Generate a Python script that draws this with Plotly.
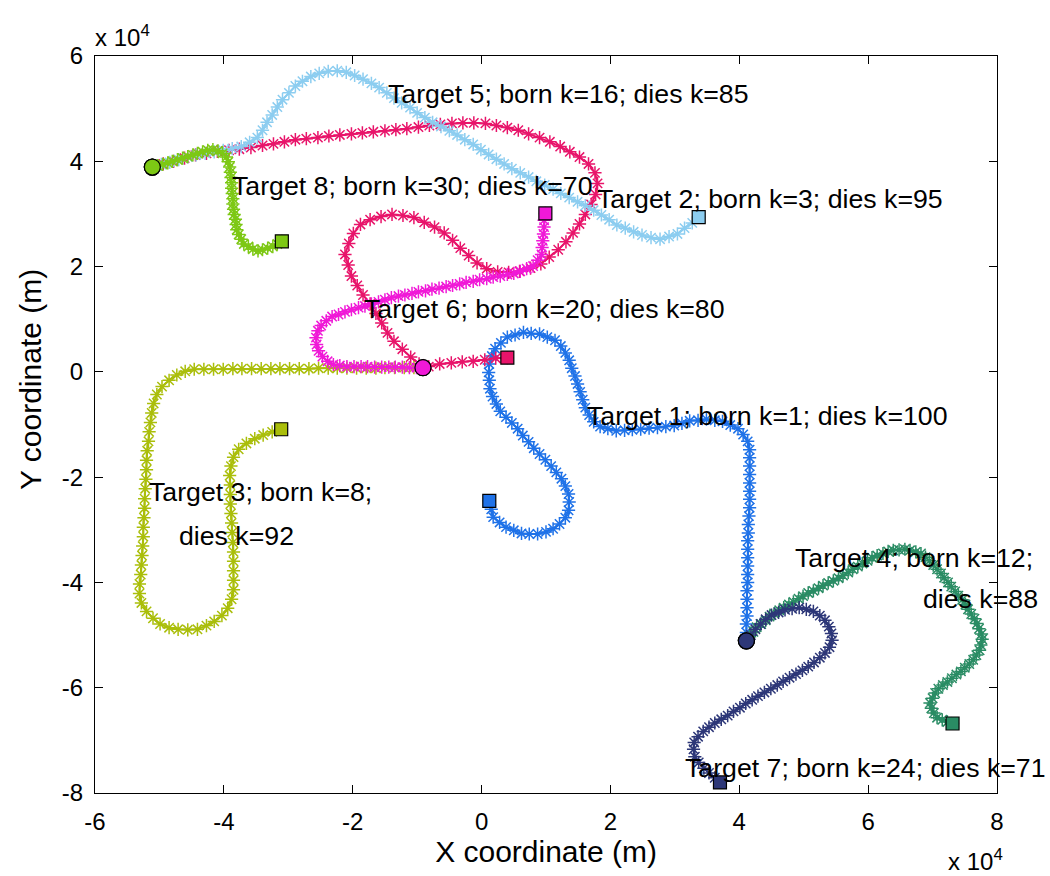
import plotly.graph_objects as go

# ---------------- data (coordinates in units of 10^4 m) ----------------
target_ids = [1, 2, 3, 4, 5, 6, 7, 8]
born_k = [1, 3, 8, 12, 16, 20, 24, 30]
dies_k = [100, 95, 92, 88, 85, 80, 71, 70]
colors = ["#1f72e8", "#e8146a", "#aabe0a", "#2a8c64",
          "#8ccdf0", "#f019d7", "#2d3778", "#7dc814"]

x_ticks = [-6, -4, -2, 0, 2, 4, 6, 8]
x_tick_labels = ["-6", "-4", "-2", "0", "2", "4", "6", "8"]
y_ticks = [-8, -6, -4, -2, 0, 2, 4, 6]
y_tick_labels = ["-8", "-6", "-4", "-2", "0", "2", "4", "6"]

t1_x = [4.11, 4.11, 4.11, 4.12, 4.12, 4.12, 4.12, 4.13, 4.13, 4.13,
        4.13, 4.13, 4.13, 4.14, 4.14, 4.15, 4.16, 4.16, 4.16, 4.16,
        4.16, 4.16, 4.16, 4.16, 4.13, 4.06, 3.98, 3.86, 3.74, 3.62,
        3.49, 3.36, 3.23, 3.11, 2.99, 2.86, 2.73, 2.60, 2.47, 2.34,
        2.22, 2.09, 1.96, 1.84, 1.74, 1.67, 1.61, 1.57, 1.53, 1.49,
        1.45, 1.40, 1.36, 1.30, 1.23, 1.14, 1.02, 0.90, 0.77, 0.65,
        0.52, 0.40, 0.30, 0.21, 0.16, 0.12, 0.11, 0.12, 0.13, 0.17,
        0.23, 0.29, 0.38, 0.47, 0.56, 0.64, 0.73, 0.81, 0.90, 0.99,
        1.08, 1.16, 1.24, 1.30, 1.35, 1.36, 1.35, 1.30, 1.21, 1.11,
        1.00, 0.87, 0.74, 0.62, 0.50, 0.38, 0.28, 0.18, 0.15, 0.12]
t1_y = [-5.11, -4.95, -4.79, -4.64, -4.48, -4.32, -4.16, -4.00, -3.85, -3.69,
        -3.53, -3.37, -3.21, -3.06, -2.90, -2.74, -2.58, -2.42, -2.27, -2.11,
        -1.95, -1.79, -1.63, -1.48, -1.32, -1.19, -1.08, -1.01, -0.94, -0.92,
        -0.90, -0.92, -0.93, -0.98, -1.02, -1.04, -1.06, -1.07, -1.09, -1.10,
        -1.11, -1.12, -1.08, -1.04, -0.95, -0.82, -0.68, -0.53, -0.38, -0.23,
        -0.08, 0.07, 0.22, 0.36, 0.49, 0.60, 0.66, 0.72, 0.73, 0.75,
        0.70, 0.66, 0.55, 0.44, 0.30, 0.15, -0.01, -0.16, -0.32, -0.47,
        -0.61, -0.75, -0.86, -0.97, -1.08, -1.21, -1.33, -1.45, -1.56, -1.67,
        -1.79, -1.91, -2.03, -2.17, -2.32, -2.47, -2.63, -2.77, -2.89, -2.98,
        -3.04, -3.08, -3.08, -3.07, -3.01, -2.95, -2.86, -2.76, -2.61, -2.45]

t2_x = [-5.11, -4.94, -4.78, -4.61, -4.44, -4.27, -4.10, -3.92, -3.76, -3.58,
        -3.40, -3.23, -3.06, -2.89, -2.72, -2.54, -2.37, -2.20, -2.02, -1.85,
        -1.68, -1.50, -1.33, -1.16, -0.98, -0.81, -0.64, -0.46, -0.29, -0.12,
        0.06, 0.23, 0.40, 0.57, 0.73, 0.90, 1.06, 1.22, 1.37, 1.52,
        1.66, 1.76, 1.80, 1.77, 1.70, 1.61, 1.52, 1.42, 1.31, 1.19,
        1.05, 0.92, 0.76, 0.59, 0.42, 0.25, 0.08, -0.07, -0.20, -0.33,
        -0.45, -0.58, -0.73, -0.89, -1.05, -1.22, -1.39, -1.56, -1.73, -1.88,
        -1.99, -2.06, -2.12, -2.07, -2.02, -1.93, -1.84, -1.73, -1.64, -1.55,
        -1.46, -1.36, -1.23, -1.10, -0.97, -0.82, -0.65, -0.47, -0.30, -0.13,
        0.05, 0.22, 0.40]
t2_y = [3.89, 3.95, 4.00, 4.06, 4.12, 4.15, 4.19, 4.21, 4.23, 4.26,
        4.30, 4.33, 4.37, 4.41, 4.43, 4.45, 4.48, 4.50, 4.52, 4.54,
        4.56, 4.58, 4.60, 4.62, 4.65, 4.68, 4.70, 4.72, 4.73, 4.73,
        4.72, 4.68, 4.64, 4.59, 4.52, 4.45, 4.37, 4.28, 4.18, 4.08,
        3.95, 3.78, 3.58, 3.37, 3.18, 2.99, 2.81, 2.64, 2.47, 2.32,
        2.18, 2.05, 1.97, 1.91, 1.89, 1.90, 1.96, 2.07, 2.21, 2.35,
        2.50, 2.64, 2.75, 2.84, 2.93, 2.97, 2.99, 2.95, 2.89, 2.80,
        2.63, 2.44, 2.23, 2.03, 1.82, 1.64, 1.46, 1.29, 1.11, 0.93,
        0.74, 0.58, 0.43, 0.28, 0.15, 0.10, 0.15, 0.17, 0.19, 0.20,
        0.23, 0.26, 0.27]

t3_x = [-0.91, -1.05, -1.20, -1.35, -1.50, -1.64, -1.79, -1.94, -2.09, -2.24,
        -2.38, -2.53, -2.68, -2.83, -2.98, -3.13, -3.27, -3.42, -3.57, -3.72,
        -3.86, -4.01, -4.16, -4.31, -4.46, -4.60, -4.73, -4.85, -4.96, -5.04,
        -5.09, -5.12, -5.14, -5.16, -5.17, -5.19, -5.20, -5.20, -5.21, -5.22,
        -5.23, -5.23, -5.24, -5.25, -5.25, -5.26, -5.27, -5.28, -5.29, -5.31,
        -5.31, -5.28, -5.20, -5.10, -4.99, -4.85, -4.71, -4.56, -4.41, -4.27,
        -4.15, -4.03, -3.94, -3.88, -3.85, -3.85, -3.85, -3.85, -3.85, -3.86,
        -3.87, -3.88, -3.89, -3.90, -3.90, -3.90, -3.91, -3.89, -3.85, -3.77,
        -3.65, -3.52, -3.39, -3.25, -3.11]
t3_y = [0.08, 0.08, 0.08, 0.08, 0.08, 0.07, 0.07, 0.07, 0.07, 0.07,
        0.07, 0.07, 0.06, 0.06, 0.06, 0.06, 0.06, 0.06, 0.06, 0.06,
        0.06, 0.05, 0.05, 0.05, 0.05, 0.01, -0.06, -0.16, -0.28, -0.43,
        -0.60, -0.78, -0.96, -1.14, -1.32, -1.50, -1.68, -1.86, -2.04, -2.22,
        -2.41, -2.59, -2.77, -2.95, -3.13, -3.31, -3.49, -3.67, -3.85, -4.03,
        -4.21, -4.39, -4.55, -4.68, -4.79, -4.86, -4.89, -4.90, -4.89, -4.82,
        -4.74, -4.63, -4.49, -4.32, -4.14, -3.96, -3.78, -3.60, -3.42, -3.24,
        -3.05, -2.87, -2.69, -2.51, -2.33, -2.15, -1.97, -1.79, -1.62, -1.47,
        -1.36, -1.27, -1.20, -1.14, -1.09]

t4_x = [4.11, 4.16, 4.22, 4.27, 4.34, 4.41, 4.47, 4.54, 4.62, 4.69,
        4.77, 4.84, 4.92, 4.99, 5.07, 5.15, 5.23, 5.30, 5.38, 5.46,
        5.54, 5.61, 5.69, 5.76, 5.84, 5.91, 5.99, 6.06, 6.14, 6.23,
        6.31, 6.39, 6.48, 6.57, 6.65, 6.74, 6.82, 6.89, 6.95, 7.01,
        7.07, 7.13, 7.18, 7.24, 7.29, 7.35, 7.40, 7.46, 7.51, 7.55,
        7.60, 7.65, 7.69, 7.72, 7.76, 7.77, 7.75, 7.73, 7.68, 7.63,
        7.57, 7.50, 7.44, 7.37, 7.30, 7.23, 7.16, 7.09, 7.04, 7.00,
        6.96, 6.98, 7.02, 7.07, 7.15, 7.23, 7.31]
t4_y = [-5.11, -5.03, -4.94, -4.85, -4.79, -4.72, -4.65, -4.59, -4.53, -4.48,
        -4.42, -4.37, -4.31, -4.26, -4.20, -4.16, -4.11, -4.06, -4.01, -3.97,
        -3.92, -3.87, -3.81, -3.75, -3.70, -3.64, -3.59, -3.53, -3.49, -3.45,
        -3.41, -3.39, -3.38, -3.37, -3.39, -3.42, -3.45, -3.52, -3.59, -3.67,
        -3.75, -3.83, -3.91, -4.00, -4.08, -4.17, -4.25, -4.33, -4.42, -4.51,
        -4.60, -4.69, -4.78, -4.88, -4.98, -5.08, -5.19, -5.29, -5.38, -5.47,
        -5.55, -5.62, -5.69, -5.75, -5.82, -5.89, -5.95, -6.02, -6.10, -6.20,
        -6.29, -6.39, -6.48, -6.57, -6.61, -6.65, -6.68]

t5_x = [-5.11, -4.97, -4.84, -4.70, -4.56, -4.43, -4.29, -4.15, -4.01, -3.87,
        -3.73, -3.60, -3.48, -3.40, -3.33, -3.25, -3.17, -3.09, -2.99, -2.89,
        -2.78, -2.65, -2.52, -2.38, -2.24, -2.10, -1.97, -1.84, -1.71, -1.59,
        -1.47, -1.36, -1.24, -1.11, -1.00, -0.88, -0.76, -0.63, -0.50, -0.38,
        -0.26, -0.13, -0.01, 0.11, 0.23, 0.35, 0.47, 0.60, 0.73, 0.85,
        0.98, 1.11, 1.23, 1.36, 1.49, 1.61, 1.74, 1.86, 1.98, 2.10,
        2.23, 2.36, 2.49, 2.63, 2.77, 2.91, 3.04, 3.15, 3.27, 3.37]
t5_y = [3.89, 3.94, 3.98, 4.03, 4.08, 4.12, 4.15, 4.18, 4.21, 4.24,
        4.28, 4.36, 4.45, 4.59, 4.74, 4.88, 5.03, 5.17, 5.30, 5.43,
        5.52, 5.61, 5.67, 5.71, 5.72, 5.69, 5.63, 5.56, 5.48, 5.40,
        5.30, 5.20, 5.11, 5.02, 4.92, 4.83, 4.74, 4.66, 4.58, 4.50,
        4.41, 4.32, 4.22, 4.13, 4.04, 3.95, 3.86, 3.78, 3.70, 3.62,
        3.55, 3.47, 3.39, 3.31, 3.23, 3.16, 3.07, 2.98, 2.89, 2.79,
        2.73, 2.66, 2.60, 2.55, 2.52, 2.57, 2.62, 2.73, 2.83, 2.94]

t6_x = [-0.91, -1.01, -1.12, -1.23, -1.34, -1.44, -1.55, -1.66, -1.77, -1.87,
        -1.98, -2.09, -2.20, -2.30, -2.39, -2.47, -2.53, -2.56, -2.57, -2.54,
        -2.49, -2.41, -2.32, -2.22, -2.12, -2.02, -1.91, -1.81, -1.71, -1.60,
        -1.50, -1.40, -1.29, -1.19, -1.08, -0.98, -0.87, -0.77, -0.66, -0.55,
        -0.45, -0.34, -0.24, -0.13, -0.03, 0.08, 0.18, 0.29, 0.40, 0.50,
        0.60, 0.70, 0.80, 0.87, 0.93, 0.94, 0.95, 0.96, 0.97, 0.97,
        0.99]
t6_y = [0.08, 0.08, 0.08, 0.09, 0.09, 0.09, 0.09, 0.09, 0.10, 0.10,
        0.10, 0.10, 0.12, 0.14, 0.20, 0.29, 0.40, 0.52, 0.65, 0.78,
        0.88, 0.97, 1.05, 1.09, 1.14, 1.18, 1.22, 1.25, 1.29, 1.33,
        1.37, 1.41, 1.44, 1.46, 1.49, 1.52, 1.54, 1.57, 1.59, 1.62,
        1.64, 1.67, 1.70, 1.72, 1.75, 1.77, 1.80, 1.82, 1.85, 1.87,
        1.91, 1.96, 2.01, 2.12, 2.23, 2.36, 2.49, 2.62, 2.75, 2.88,
        3.01]

t7_x = [4.11, 4.18, 4.25, 4.33, 4.41, 4.50, 4.61, 4.71, 4.82, 4.93,
        5.04, 5.15, 5.25, 5.33, 5.39, 5.43, 5.44, 5.40, 5.33, 5.25,
        5.16, 5.07, 4.98, 4.88, 4.78, 4.68, 4.59, 4.49, 4.39, 4.29,
        4.20, 4.10, 4.01, 3.91, 3.82, 3.72, 3.62, 3.53, 3.44, 3.36,
        3.30, 3.29, 3.31, 3.37, 3.45, 3.53, 3.62, 3.70]
t7_y = [-5.11, -5.00, -4.89, -4.79, -4.70, -4.62, -4.57, -4.52, -4.50, -4.48,
        -4.51, -4.55, -4.63, -4.72, -4.84, -4.97, -5.10, -5.23, -5.34, -5.43,
        -5.52, -5.60, -5.67, -5.74, -5.81, -5.88, -5.95, -6.02, -6.09, -6.16,
        -6.23, -6.30, -6.38, -6.45, -6.53, -6.60, -6.67, -6.75, -6.83, -6.93,
        -7.04, -7.17, -7.31, -7.42, -7.53, -7.62, -7.71, -7.80]

t8_x = [-5.11, -5.03, -4.95, -4.87, -4.80, -4.72, -4.64, -4.56, -4.48, -4.41,
        -4.33, -4.25, -4.17, -4.09, -4.02, -3.96, -3.93, -3.91, -3.90, -3.89,
        -3.88, -3.88, -3.87, -3.86, -3.86, -3.85, -3.84, -3.82, -3.81, -3.80,
        -3.77, -3.73, -3.69, -3.62, -3.55, -3.47, -3.40, -3.32, -3.24, -3.17,
        -3.10]
t8_y = [3.89, 3.92, 3.94, 3.97, 4.00, 4.03, 4.06, 4.09, 4.12, 4.15,
        4.18, 4.21, 4.22, 4.20, 4.15, 4.08, 3.99, 3.89, 3.79, 3.69,
        3.59, 3.49, 3.39, 3.29, 3.19, 3.09, 2.99, 2.90, 2.80, 2.70,
        2.61, 2.52, 2.43, 2.38, 2.33, 2.30, 2.32, 2.35, 2.38, 2.43,
        2.48]

tracks_x = [t1_x, t2_x, t3_x, t4_x, t5_x, t6_x, t7_x, t8_x]
tracks_y = [t1_y, t2_y, t3_y, t4_y, t5_y, t6_y, t7_y, t8_y]

# ---------------- figure ----------------
FONT = "Liberation Sans, Arial, Helvetica, sans-serif"
fig = go.Figure()

for tid, xs, ys, col in zip(target_ids, tracks_x, tracks_y, colors):
    fig.add_trace(go.Scatter(
        x=xs, y=ys, mode="lines+markers", name=f"Target {tid}",
        line=dict(color=col, width=2),
        marker=dict(symbol="asterisk-open", size=11,
                    line=dict(color=col, width=1.5)),
        showlegend=False, hoverinfo="skip"))
    fig.add_trace(go.Scatter(
        x=[xs[0]], y=[ys[0]], mode="markers", showlegend=False,
        marker=dict(symbol="circle", size=16, color=col,
                    line=dict(color="black", width=1.2)),
        hoverinfo="skip"))
    fig.add_trace(go.Scatter(
        x=[xs[-1]], y=[ys[-1]], mode="markers", showlegend=False,
        marker=dict(symbol="square", size=13, color=col,
                    line=dict(color="black", width=1.2)),
        hoverinfo="skip"))

# label placement (left edge x, vertical centre y) per text line
label_lines = {
    1: [(1.60, -0.84, "Target {t}; born k={b}; dies k={d}")],
    2: [(1.76, 3.29, "Target {t}; born k={b}; dies k={d}")],
    3: [(-5.19, -2.28, "Target {t}; born k={b};"), (-4.72, -3.11, "dies k={d}")],
    4: [(4.83, -3.53, "Target {t}; born k={b};"), (6.82, -4.32, "dies k={d}")],
    5: [(-1.48, 5.28, "Target {t}; born k={b}; dies k={d}")],
    6: [(-1.85, 1.20, "Target {t}; born k={b}; dies k={d}")],
    7: [(3.13, -7.52, "Target {t}; born k={b}; dies k={d}")],
    8: [(-3.90, 3.54, "Target {t}; born k={b}; dies k={d}")],
}
annotations = []
for tid, b, d in zip(target_ids, born_k, dies_k):
    for lx, ly, tpl in label_lines[tid]:
        annotations.append(dict(
            x=lx, y=ly, xref="x", yref="y", xanchor="left", yanchor="middle",
            text=tpl.format(t=tid, b=b, d=d), showarrow=False,
            font=dict(family=FONT, size=26.7, color="black")))

# exponent labels
annotations.append(dict(x=0, y=1.0, xref="paper", yref="paper",
                        xanchor="left", yanchor="bottom", yshift=3, xshift=-2,
                        text="x 10<sup>4</sup>", showarrow=False,
                        font=dict(family=FONT, size=24, color="black")))
annotations.append(dict(x=1.0, y=0, xref="paper", yref="paper",
                        xanchor="right", yanchor="top", yshift=-50, xshift=8,
                        text="x 10<sup>4</sup>", showarrow=False,
                        font=dict(family=FONT, size=24, color="black")))

# Y axis title placed where the reference shows it
pl, pr, pt, pb = 95, 53, 56, 83
W, H = 1050, 876
annotations.append(dict(x=(30 - pl) / (W - pl - pr),
                        y=1 - (380 - pt) / (H - pt - pb),
                        xref="paper", yref="paper",
                        xanchor="center", yanchor="middle",
                        text="Y coordinate (m)", showarrow=False, textangle=-90,
                        font=dict(family=FONT, size=30, color="black")))

fig.update_layout(
    width=W, height=H,
    margin=dict(l=pl, r=pr, t=pt, b=pb),
    plot_bgcolor="white", paper_bgcolor="white",
    font=dict(family=FONT, color="black"),
    annotations=annotations,
    xaxis=dict(range=[-6, 8], tickvals=x_ticks, ticktext=x_tick_labels,
               ticks="inside", ticklen=8, tickwidth=1, tickcolor="black",
               showline=True, linecolor="black", linewidth=1, mirror="ticks",
               showgrid=False, zeroline=False,
               tickfont=dict(family=FONT, size=24, color="black"),
               ticklabelstandoff=7,
               title=dict(text="X coordinate (m)", standoff=2,
                          font=dict(family=FONT, size=30, color="black"))),
    yaxis=dict(range=[-8, 6], tickvals=y_ticks, ticktext=y_tick_labels,
               ticks="inside", ticklen=8, tickwidth=1, tickcolor="black",
               showline=True, linecolor="black", linewidth=1, mirror="ticks",
               showgrid=False, zeroline=False,
               tickfont=dict(family=FONT, size=24, color="black"),
               ticklabelstandoff=6),
)

fig.write_html("out.html")
